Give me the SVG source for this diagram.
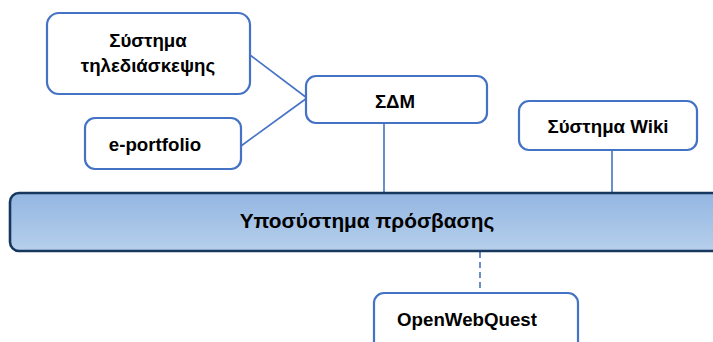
<svg xmlns="http://www.w3.org/2000/svg" width="713" height="342" viewBox="0 0 713 342">
<defs>
<linearGradient id="barGrad" x1="0" y1="0" x2="0" y2="1">
<stop offset="0" stop-color="#93B6E2"/>
<stop offset="1" stop-color="#B6CFEB"/>
</linearGradient>
<style>
.box{fill:#FFFFFF;stroke:#4472C4;stroke-width:2.2}
.lbl{font-family:"Liberation Sans",Arial,sans-serif;font-weight:bold;font-size:18.7px;fill:#000;text-anchor:middle}
.conn{stroke:#4472C4;stroke-width:1.6;fill:none}
</style>
</defs>
<rect width="713" height="342" fill="#FFFFFF"/>
<g id="connectors">
<line class="conn" x1="250" y1="55" x2="307" y2="98"/>
<line class="conn" x1="241" y1="146" x2="307" y2="98"/>
<line class="conn" x1="384" y1="123" x2="384" y2="193"/>
<line class="conn" x1="612" y1="150" x2="612" y2="193"/>
<line class="conn" x1="480" y1="252" x2="480" y2="292" stroke-dasharray="6,4"/>
</g>
<g id="bar">
<rect x="10" y="193" width="720" height="58" rx="9" fill="url(#barGrad)" stroke="#17375E" stroke-width="2.6"/>
<text class="lbl" x="367" y="228" style="font-size:20.8px">Υποσύστημα πρόσβασης</text>
</g>
<g id="tele">
<rect class="box" x="47" y="13" width="203" height="81" rx="12"/>
<text class="lbl" x="148" y="47">Σύστημα</text>
<text class="lbl" x="148" y="72">τηλεδιάσκεψης</text>
</g>
<g id="eportfolio">
<rect class="box" x="85" y="118" width="156" height="51" rx="10"/>
<text class="lbl" x="155" y="151">e-portfolio</text>
</g>
<g id="sdm">
<rect class="box" x="306" y="76" width="181" height="47" rx="10"/>
<text class="lbl" x="395" y="108">ΣΔΜ</text>
</g>
<g id="wiki">
<rect class="box" x="519" y="101" width="178" height="49" rx="10"/>
<text class="lbl" x="608" y="133">Σύστημα Wiki</text>
</g>
<g id="openwebquest">
<rect class="box" x="374" y="293" width="204" height="60" rx="10"/>
<text class="lbl" x="467" y="326">OpenWebQuest</text>
</g>
</svg>
